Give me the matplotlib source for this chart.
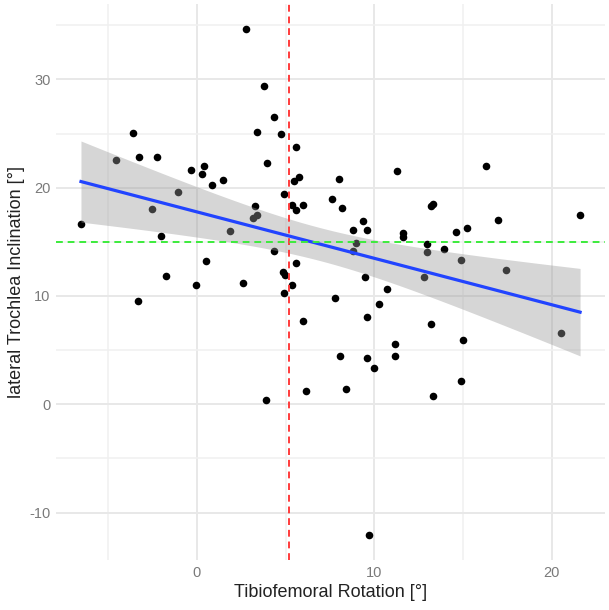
import matplotlib

matplotlib.use("Agg")
import matplotlib.pyplot as plt
import numpy as np

plt.rcParams["axes.unicode_minus"] = False

# tibiofemoral rotation [deg]
rotation = [
    2.77, 3.77, 4.37, 3.37, 4.76, -3.63, 5.59, -4.55, -3.26, -2.24,
    3.97, -0.34, 0.38, 0.27, 0.86, 1.47, 5.78, 5.48, 7.98, -1.06,
    4.88, 7.59, 5.37, 5.99, 5.59, 8.19, 3.29, -2.53, 3.37, 3.18,
    -6.54, 1.86, -2.03, 4.37, 0.49, 5.59, -1.73, 4.84, 4.97, -0.04,
    2.57, 5.38, 4.88, 7.80, -3.33, 5.99, 8.05, 6.17, 3.88, 11.28,
    16.29, 21.60, 16.99, 13.22, 13.32, 9.37, 8.77, 9.59, 11.59, 11.59,
    14.59, 15.25, 8.97, 8.77, 12.98, 12.98, 13.91, 14.90, 17.40, 9.47,
    12.81, 10.69, 10.28, 9.59, 13.18, 14.99, 20.51, 11.19, 11.19, 9.59,
    10.00, 8.40, 14.90, 13.29, 9.72,
]
# lateral trochlea inclination [deg]
inclination = [
    34.63, 29.36, 26.50, 25.18, 24.93, 25.09, 23.76, 22.56, 22.83, 22.83,
    22.25, 21.61, 22.00, 21.30, 20.22, 20.68, 21.02, 20.59, 20.84, 19.60,
    19.39, 18.93, 18.44, 18.44, 17.94, 18.14, 18.33, 18.01, 17.45, 17.22,
    16.65, 16.04, 15.51, 14.19, 13.20, 13.02, 11.88, 12.22, 11.91, 11.02,
    11.22, 11.02, 10.31, 9.83, 9.54, 7.65, 4.46, 1.20, 0.37, 21.51,
    21.98, 17.48, 17.02, 18.31, 18.50, 16.96, 16.07, 16.09, 15.79, 15.42,
    15.91, 16.30, 14.89, 14.11, 14.77, 14.10, 14.29, 13.32, 12.44, 11.75,
    11.75, 10.68, 9.26, 8.10, 7.39, 5.97, 6.62, 5.60, 4.46, 4.25,
    3.39, 1.36, 2.19, 0.77, -12.05,
]
x_ref = 5.2
y_ref = 15
x_ticks = [0, 10, 20]
y_ticks = [-10, 0, 10, 20, 30]
T_975 = 1.989  # t quantile, df ~ 83

x = np.array(rotation)
y = np.array(inclination)

# lineare Regression + 95% Konfidenzband
n = len(x)
slope, intercept = np.polyfit(x, y, 1)
resid = y - (intercept + slope * x)
s = np.sqrt(np.sum(resid**2) / (n - 2))
sxx = np.sum((x - x.mean()) ** 2)
xs = np.linspace(x.min(), x.max(), 80)
fit = intercept + slope * xs
se = s * np.sqrt(1 / n + (xs - x.mean()) ** 2 / sxx)

fig = plt.figure(figsize=(6.09, 6.10), dpi=100)
ax = fig.add_axes([0.092, 0.082, 0.9015, 0.9115])

ax.scatter(x, y, s=30, color="black", linewidths=0, zorder=3)
ax.fill_between(xs, fit - T_975 * se, fit + T_975 * se, color="#999999",
                alpha=0.4, linewidth=0, zorder=4)
ax.plot(xs, fit, color="#2244FF", linewidth=2.3, zorder=5)

ax.axvline(x_ref, color="#FF3B3B", linestyle=(0, (3.5, 2.5)), linewidth=1.4, zorder=6)
ax.axhline(y_ref, color="#3CEB3C", linestyle=(0, (3.5, 2.5)), linewidth=1.4, zorder=6)

# ggplot-artige Achsen
xr = x.max() - x.min()
yr = y.max() - y.min()
ax.set_xlim(x.min() - 0.05 * xr, x.max() + 0.05 * xr)
ax.set_ylim(y.min() - 0.05 * yr, y.max() + 0.05 * yr)
ax.set_xticks(x_ticks)
ax.set_yticks(y_ticks)
ax.set_xticks([-5, 5, 15], minor=True)
ax.set_yticks([-5, 5, 15, 25, 35], minor=True)
ax.grid(True, which="major", color="#E8E8E8", linewidth=1.4, zorder=0)
ax.grid(True, which="minor", color="#F0F0F0", linewidth=1.1, zorder=0)
ax.set_axisbelow(True)
for sp in ax.spines.values():
    sp.set_visible(False)
ax.tick_params(which="both", length=0, labelsize=10.5, labelcolor="#7A7A7A",
               pad=4)
for lab in ax.get_xticklabels() + ax.get_yticklabels():
    lab.set_family("Liberation Sans")

ax.set_xlabel("Tibiofemoral Rotation [°]", fontsize=13, color="#222222",
              family="Liberation Sans", labelpad=3)
ax.set_ylabel("lateral Trochlea Inclination [°]", fontsize=13,
              color="#222222", family="Liberation Sans", labelpad=3)

plt.savefig("out.png", dpi=100)
plt.close()
